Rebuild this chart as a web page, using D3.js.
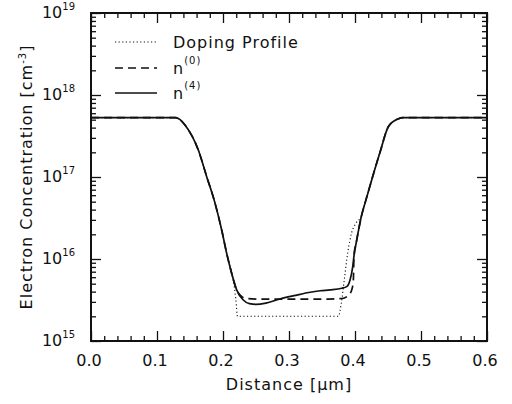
<!DOCTYPE html>
<html>
<head>
<meta charset="utf-8">
<script src="https://cdn.jsdelivr.net/npm/d3@7.9.0/dist/d3.min.js"></script>
<style>
  body { margin: 0; background: #fff; }
  svg text { font-family: "DejaVu Sans", sans-serif; fill: #111; }
</style>
</head>
<body>
<svg id="chart" width="512" height="404"></svg>
<script>
// distance in um, concentration in cm^-3
const dopingX = [0, 0.128, 0.135, 0.1424, 0.1626, 0.1753, 0.1879, 0.198, 0.2056, 0.2131, 0.217, 0.2195, 0.222,
  0.3747, 0.379, 0.384, 0.389, 0.395, 0.401, 0.41, 0.4152, 0.4253, 0.4379, 0.4505, 0.465, 0.473, 0.6];
const dopingY = [5.3e17, 5.3e17, 5.0e17, 4.3e17, 2.13e17, 1.01e17, 4.8e16, 2.26e16, 1.17e16, 6.7e15, 4.6e15, 3.2e15, 2e15,
  2e15, 2.8e15, 5.8e15, 1.2e16, 2.1e16, 2.7e16, 3.4e16, 4.8e16, 9.2e16, 2.0e17, 4.1e17, 5.1e17, 5.3e17, 5.3e17];

const n0X = [0, 0.128, 0.135, 0.1424, 0.1626, 0.1753, 0.1879, 0.198, 0.2056, 0.2131, 0.2207, 0.228, 0.235, 0.25,
  0.3, 0.36, 0.38, 0.39, 0.395, 0.3975, 0.3985, 0.4026, 0.4065, 0.41, 0.4152, 0.4253, 0.4379, 0.4505, 0.465, 0.473, 0.6];
const n0Y = [5.3e17, 5.3e17, 5.0e17, 4.3e17, 2.13e17, 1.01e17, 4.8e16, 2.26e16, 1.17e16, 6.7e15, 4.2e15, 3.5e15, 3.3e15, 3.25e15,
  3.25e15, 3.25e15, 3.3e15, 3.6e15, 4.2e15, 5.5e15, 1.1e16, 1.7e16, 2.5e16, 3.4e16, 4.8e16, 9.2e16, 2.0e17, 4.1e17, 5.1e17, 5.3e17, 5.3e17];

const n4X = [0, 0.128, 0.135, 0.1424, 0.1626, 0.1753, 0.1879, 0.198, 0.2056, 0.2131, 0.2207, 0.2308, 0.24, 0.25, 0.265,
  0.286, 0.31, 0.33, 0.347, 0.362, 0.38, 0.3874, 0.3924, 0.3965, 0.3985, 0.4026, 0.4065, 0.41, 0.4152, 0.4253, 0.4379, 0.4505,
  0.465, 0.473, 0.6];
const n4Y = [5.3e17, 5.3e17, 5.0e17, 4.3e17, 2.13e17, 1.01e17, 4.8e16, 2.26e16, 1.17e16, 6.7e15, 4.2e15, 3.16e15, 2.85e15, 2.8e15, 2.9e15,
  3.25e15, 3.6e15, 3.9e15, 4.1e15, 4.2e15, 4.4e15, 4.6e15, 5.5e15, 8.0e15, 1.1e16, 1.7e16, 2.5e16, 3.4e16, 4.8e16, 9.2e16, 2.0e17, 4.1e17,
  5.1e17, 5.3e17, 5.3e17];

const xTickLabels = ["0.0", "0.1", "0.2", "0.3", "0.4", "0.5", "0.6"];
const yDecades = [15, 16, 17, 18, 19];
const legendLabels = [["Doping Profile", ""], ["n", "(0)"], ["n", "(4)"]];

const margin = { top: 13, right: 25, bottom: 63, left: 91 };
const width = 512 - margin.left - margin.right;
const height = 404 - margin.top - margin.bottom;

const svg = d3.select("#chart");
const g = svg.append("g").attr("transform", `translate(${margin.left},${margin.top})`);

const x = d3.scaleLinear().domain([0, 0.6]).range([0, width]);
const y = d3.scaleLog().domain([1e15, 1e19]).range([height, 0]);

// ticks, all pointing inward
const xMajor = xTickLabels.map(Number);
const xMinor = d3.range(0, 0.6001, 0.02).filter(v => Math.abs(v * 10 - Math.round(v * 10)) > 1e-6);
const yMajor = yDecades.map(p => Math.pow(10, p));
const yMinor = y.ticks().filter(v => !yMajor.some(m => Math.abs(v / m - 1) < 1e-6));

function tickAxis(axis, vals, size) {
  return axis.tickValues(vals).tickSize(-size).tickSizeOuter(0).tickFormat("");
}
const axes = [
  [() => d3.axisBottom(x), `translate(0,${height})`, xMajor, xMinor],
  [() => d3.axisTop(x), null, xMajor, xMinor],
  [() => d3.axisLeft(y), null, yMajor, yMinor],
  [() => d3.axisRight(y), `translate(${width},0)`, yMajor, yMinor]
];
axes.forEach(([make, tr, major, minor]) => {
  [[major, 10], [minor, 5]].forEach(([vals, size]) => {
    const a = g.append("g").call(tickAxis(make(), vals, size));
    if (tr) a.attr("transform", tr);
    a.select(".domain").remove();
    a.selectAll("line").attr("stroke", "#111").attr("stroke-width", 1.3);
  });
});

g.append("rect")
  .attr("width", width).attr("height", height)
  .attr("fill", "none").attr("stroke", "#111").attr("stroke-width", 2);

// tick labels
g.selectAll(".xlab").data(xTickLabels).enter().append("text")
  .attr("x", d => x(+d) - 2).attr("y", height + 25)
  .attr("text-anchor", "middle").style("font-size", "16px")
  .text(d => d);

const ylab = g.selectAll(".ylab").data(yDecades).enter().append("text")
  .attr("x", -16).attr("y", d => y(Math.pow(10, d)) + 5)
  .attr("text-anchor", "end").style("font-size", "16px");
ylab.append("tspan").text("10");
ylab.append("tspan").attr("dy", -8).style("font-size", "10px").text(d => d);

// axis titles
g.append("text")
  .attr("x", width / 2).attr("y", height + 49)
  .attr("text-anchor", "middle").style("font-size", "16px")
  .style("letter-spacing", "1px")
  .text("Distance [μm]");

const yt = g.append("text")
  .attr("transform", `translate(${-59},${height / 2}) rotate(-90)`)
  .attr("text-anchor", "middle").style("font-size", "16px")
  .style("letter-spacing", "1px");
yt.append("tspan").text("Electron Concentration [cm");
yt.append("tspan").attr("dy", -6).style("font-size", "10px").text("-3");
yt.append("tspan").attr("dy", 6).text("]");

// curves
const line = d3.line()
  .x(d => x(d[0]))
  .y(d => y(d[1]))
  .curve(d3.curveMonotoneX);

const series = [
  { xs: dopingX, ys: dopingY, dash: "1.2,2.4", w: 1.1 },
  { xs: n0X, ys: n0Y, dash: "8,5", w: 1.7 },
  { xs: n4X, ys: n4Y, dash: null, w: 1.7 }
];
series.forEach(s => {
  g.append("path")
    .datum(d3.zip(s.xs, s.ys))
    .attr("d", line)
    .attr("fill", "none")
    .attr("stroke", "#111")
    .attr("stroke-width", s.w)
    .attr("stroke-dasharray", s.dash);
});

// legend
const legendRows = [29, 55, 80];
series.forEach((s, i) => {
  g.append("line")
    .attr("x1", 24).attr("x2", 66)
    .attr("y1", legendRows[i]).attr("y2", legendRows[i])
    .attr("stroke", "#111").attr("stroke-width", s.w)
    .attr("stroke-dasharray", s.dash);
  const t = g.append("text")
    .attr("x", 82).attr("y", legendRows[i] + 6)
    .style("font-size", "16px")
    .style("letter-spacing", "1px");
  t.append("tspan").text(legendLabels[i][0]);
  if (legendLabels[i][1]) {
    t.append("tspan").attr("dy", -10).style("font-size", "10px").text(legendLabels[i][1]);
  }
});
</script>
</body>
</html>
